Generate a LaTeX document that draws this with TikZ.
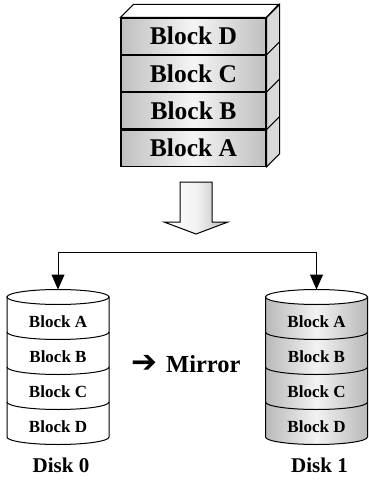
\documentclass[tikz,border=0pt]{standalone}
\usepackage{fontspec}
\setmainfont{Liberation Serif}
\newfontfamily\symfont{DejaVu Sans}
\usetikzlibrary{arrows.meta}

\tikzset{
  blockbox/.style={draw,line width=1.1pt,minimum width=145pt,minimum height=36.25pt,
    inner sep=0pt,left color=gray!50,right color=gray!50,middle color=gray!8,
    font=\bfseries\fontsize{25.5}{30}\selectfont},
  disklabel/.style={font=\bfseries\fontsize{17}{20}\selectfont},
  diskname/.style={font=\bfseries\fontsize{21}{25}\selectfont,anchor=base},
  feed/.style={line width=1pt,{Triangle[length=15pt,width=13pt]}-{Triangle[length=15pt,width=13pt]}}
}

\begin{document}
\begin{tikzpicture}[x=1pt,y=-1pt]
  \useasboundingbox (0,0) rectangle (368,481);

  % stacked blocks
  \node[blockbox] (blkD) at (193.5,36.1) {Block D};
  \node[blockbox,anchor=north] (blkC) at (blkD.south) {Block C};
  \node[blockbox,anchor=north] (blkB) at (blkC.south) {Block B};
  \node[blockbox,anchor=north] (blkA) at (blkB.south) {Block A};
  \draw[line width=1.1pt,fill=white] (blkD.north west) -- ++(13,-13) -- ++(145,0)
    -- (blkD.north east) -- cycle;
  \draw[line width=1.1pt,fill=gray!30] (blkD.north east) -- ++(13,-13)
    -- ([xshift=13pt,yshift=13pt]blkA.south east) -- (blkA.south east) -- cycle;
  \foreach \b in {blkD,blkC,blkB}
    \draw[line width=1.1pt] (\b.south east) -- ++(13,-13);

  % hollow arrow
  \draw[line width=1pt,left color=white,right color=gray!55,middle color=gray!10]
    (180,182) -- (212,182) -- (212,222) -- (228,222) -- (196,234)
    -- (164,222) -- (180,222) -- cycle;

  % disks
  \foreach \cx/\d/\edge/\mid in {58/0/white/white,316.5/1/gray!55/gray!10}{
    \path[line width=1pt,draw,left color=\edge,right color=\edge,middle color=\mid]
      (\cx-51,297) -- (\cx-51,437) arc[start angle=180,end angle=0,x radius=51,y radius=7.5]
      -- (\cx+51,297) -- cycle;
    \draw[line width=1pt,fill=white] (\cx,297) ellipse[x radius=51,y radius=7.5];
    \foreach \y in {332,367,402}
      \draw[line width=1pt] (\cx-51,\y) arc[start angle=180,end angle=0,x radius=51,y radius=7.5];
    \coordinate (top\d) at (\cx,289.5);
    \node[disklabel] (d\d A) at (\cx,321.5) {Block A};
    \node[disklabel] (d\d B) at (\cx,356.5) {Block B};
    \node[disklabel] (d\d C) at (\cx,391.5) {Block C};
    \node[disklabel] (d\d D) at (\cx,426.5) {Block D};
    \node[diskname] (disk\d) at (\cx+3,472) {Disk \d};
  }

  \coordinate (bus) at (0,252);
  \draw[feed] (top0) -- (top0 |- bus) -- (top1 |- bus) -- (top1);

  \node[anchor=base west,inner sep=0pt,font=\bfseries\fontsize{24.5}{29}\selectfont] (mirror)
    at (131,372) {{\symfont\fontsize{31}{31}\selectfont ➔}\kern9pt Mirror};
\end{tikzpicture}
\end{document}
